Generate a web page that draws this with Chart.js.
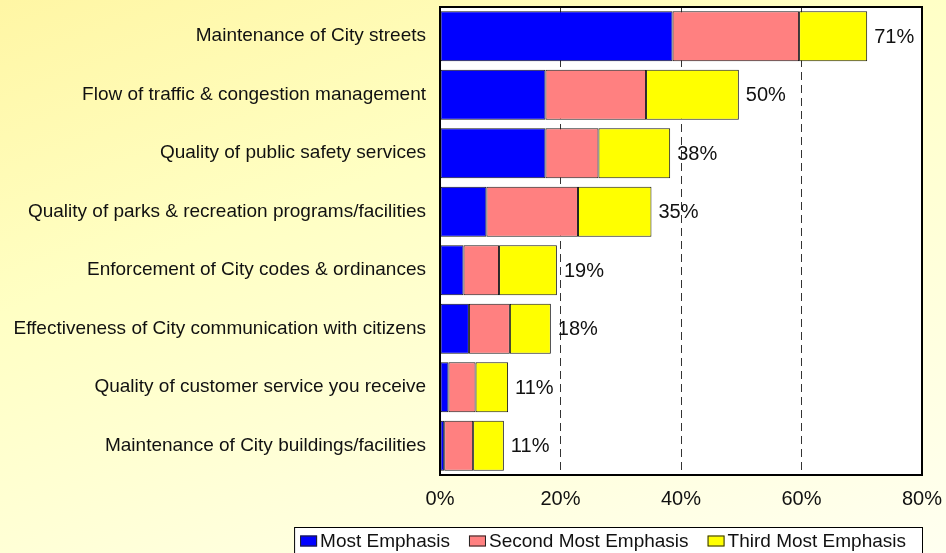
<!DOCTYPE html>
<html>
<head>
<meta charset="utf-8">
<script src="https://cdn.jsdelivr.net/npm/chart.js@4.4.1/dist/chart.umd.min.js"></script>
<style>
  html, body { margin: 0; padding: 0; }
  body {
    width: 946px; height: 553px; overflow: hidden;
    background: linear-gradient(160deg, #fff6a4 0%, #ffffc4 35%, #fffff0 100%);
  }
  #wrap { position: relative; width: 946px; height: 553px; }
</style>
</head>
<body>
<div id="wrap"><canvas id="emphasisChart"></canvas></div>
<script>
// categories (top to bottom)
const categories = [
    'Maintenance of City streets',
    'Flow of traffic & congestion management',
    'Quality of public safety services',
    'Quality of parks & recreation programs/facilities',
    'Enforcement of City codes & ordinances',
    'Effectiveness of City communication with citizens',
    'Quality of customer service you receive',
    'Maintenance of City buildings/facilities'
];

// percent of respondents
const mostEmphasis   = [38.6, 17.5, 17.5, 7.7, 3.9, 4.8, 1.4, 0.7];
const secondEmphasis = [21.0, 16.7, 8.8, 15.2, 5.9, 6.8, 4.5, 4.8];
const thirdEmphasis  = [11.3, 15.4, 11.9, 12.2, 9.6, 6.8, 5.4, 5.1];

// total labels printed at the end of each bar
const totalLabels = [71, 50, 38, 35, 19, 18, 11, 11];

const xTicks = [0, 20, 40, 60, 80];

const FONT = "'Liberation Sans', Arial, Helvetica, sans-serif";

document.addEventListener('DOMContentLoaded', function () {
    const ctx = document.getElementById('emphasisChart').getContext('2d');

    // white plot area behind the bars
    const plotBackground = {
        id: 'plotBackground',
        beforeDraw(chart) {
            const { ctx, chartArea } = chart;
            ctx.save();
            ctx.fillStyle = '#ffffff';
            ctx.fillRect(chartArea.left, chartArea.top, chartArea.right - chartArea.left, chartArea.bottom - chartArea.top);
            ctx.restore();
        }
    };

    // border round the plot, total labels and a boxed legend
    const extras = {
        id: 'extras',
        afterDatasetsDraw(chart) {
            const { ctx, chartArea } = chart;
            const xScale = chart.scales.x;
            const yScale = chart.scales.y;

            ctx.save();
            ctx.strokeStyle = '#000000';
            ctx.lineWidth = 2;
            ctx.strokeRect(chartArea.left, chartArea.top, chartArea.right - chartArea.left, chartArea.bottom - chartArea.top);

            ctx.font = '20px ' + FONT;
            ctx.fillStyle = '#111111';
            ctx.textAlign = 'left';
            ctx.textBaseline = 'middle';
            categories.forEach((c, i) => {
                const total = mostEmphasis[i] + secondEmphasis[i] + thirdEmphasis[i];
                const x = xScale.getPixelForValue(total) + 7;
                const y = yScale.getPixelForValue(i);
                ctx.fillText(totalLabels[i] + '%', x, y + 1);
            });

            // legend
            ctx.font = '19px ' + FONT;
            const items = chart.data.datasets.map(d => ({ label: d.label, color: d.backgroundColor }));
            const boxW = 17, boxH = 11, gap = 3, spacing = 19, padR = 16, padL = 6;
            const widths = items.map(it => boxW + gap + ctx.measureText(it.label).width);
            const total = widths.reduce((a, b) => a + b, 0) + spacing * (items.length - 1);
            const right = chartArea.right;
            const top = 527;
            const left = right - padR - total - padL;
            ctx.fillStyle = '#ffffff';
            ctx.fillRect(left, top, right - left, 40);
            ctx.strokeStyle = '#000000';
            ctx.lineWidth = 1;
            ctx.strokeRect(left + 0.5, top + 0.5, right - left, 40);
            let x = left + padL;
            const ty = 541;
            items.forEach((it, i) => {
                ctx.fillStyle = it.color;
                ctx.fillRect(x, ty - boxH / 2, boxW, boxH);
                ctx.strokeStyle = '#222222';
                ctx.strokeRect(x + 0.5, ty - boxH / 2 + 0.5, boxW - 1, boxH - 1);
                ctx.fillStyle = '#111111';
                ctx.fillText(it.label, x + boxW + gap, ty + 1);
                x += widths[i] + spacing;
            });
            ctx.restore();
        }
    };

    new Chart(ctx, {
        type: 'bar',
        data: {
            labels: categories,
            datasets: [
                {
                    label: 'Most Emphasis',
                    data: mostEmphasis,
                    backgroundColor: '#0000ff',
                    borderColor: '#1a1a1a',
                    borderWidth: 1,
                    borderSkipped: false
                },
                {
                    label: 'Second Most Emphasis',
                    data: secondEmphasis,
                    backgroundColor: '#ff8080',
                    borderColor: '#1a1a1a',
                    borderWidth: 1,
                    borderSkipped: false
                },
                {
                    label: 'Third Most Emphasis',
                    data: thirdEmphasis,
                    backgroundColor: '#ffff00',
                    borderColor: '#1a1a1a',
                    borderWidth: 1,
                    borderSkipped: false
                }
            ]
        },
        options: {
            indexAxis: 'y',
            responsive: true,
            maintainAspectRatio: false,
            animation: false,
            categoryPercentage: 0.855,
            barPercentage: 1,
            layout: { padding: { top: 7, right: 24, bottom: 38, left: 0 } },
            plugins: {
                legend: { display: false },
                tooltip: { enabled: false }
            },
            scales: {
                x: {
                    stacked: true,
                    min: 0,
                    max: 80,
                    afterBuildTicks: axis => { axis.ticks = xTicks.map(v => ({ value: v })); },
                    afterFit: axis => { axis.height = 40; axis.paddingLeft = 0; axis.paddingRight = 0; },
                    grid: {
                        drawTicks: false,
                        lineWidth: 1,
                        color: c => (c.tick && (c.tick.value === 0 || c.tick.value === 80)) ? 'rgba(0,0,0,0)' : '#333333'
                    },
                    border: { display: false, dash: [8, 5] },
                    ticks: {
                        padding: 12,
                        color: '#111111',
                        font: { family: FONT, size: 20 },
                        callback: v => v + '%'
                    }
                },
                y: {
                    stacked: true,
                    afterFit: axis => { axis.width = 440; axis.paddingTop = 0; axis.paddingBottom = 0; },
                    grid: { display: false, drawTicks: false },
                    border: { display: false },
                    ticks: {
                        padding: 14,
                        color: '#111111',
                        font: { family: FONT, size: 19 }
                    }
                }
            }
        },
        plugins: [plotBackground, extras]
    });
});
</script>
</body>
</html>
